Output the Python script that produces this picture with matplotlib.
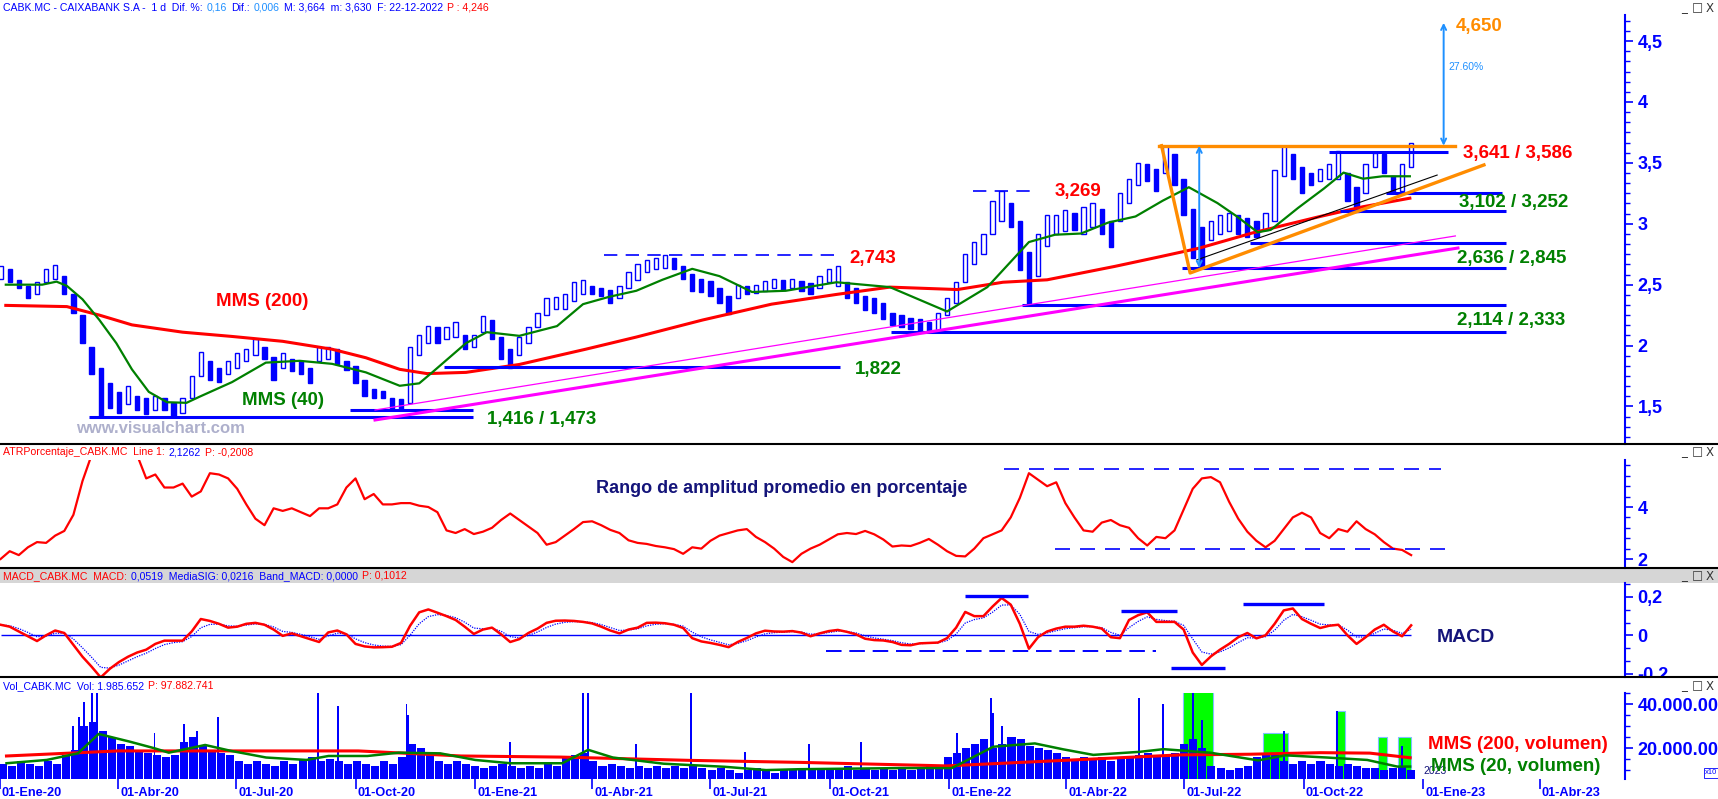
import numpy as np
import pandas as pd
import matplotlib
matplotlib.use('Agg')
import matplotlib.pyplot as plt
import matplotlib.dates as mdates
from matplotlib.ticker import MultipleLocator, FixedLocator, FuncFormatter
from matplotlib.patches import Rectangle
from matplotlib.lines import Line2D
from matplotlib.transforms import blended_transform_factory, ScaledTranslation

plt.rcParams['font.family'] = ['Liberation Sans', 'DejaVu Sans']
plt.rcParams['font.weight'] = 'bold'

BLUE = '#0000ff'
RED = '#ff0000'
GREEN = '#008000'
ORANGE = '#ff8c00'
MAGENTA = '#ff00ff'
SKY = '#1e90ff'
NAVY = '#14147a'

# ---------------------------------------------------------------- data
weeks = pd.date_range('2020-01-03', periods=156, freq='7D')

week_low = [
    2.55, 2.52, 2.47, 2.39, 2.42, 2.52, 2.55, 2.42, 2.27, 2.02,
    1.77, 1.42, 1.49, 1.45, 1.52, 1.47, 1.44, 1.47, 1.47, 1.42,
    1.45, 1.57, 1.75, 1.72, 1.70, 1.77, 1.82, 1.87, 1.92, 1.89,
    1.72, 1.82, 1.79, 1.77, 1.69, 1.87, 1.89, 1.85, 1.80, 1.69,
    1.59, 1.57, 1.57, 1.47, 1.48, 1.53, 1.92, 2.02, 2.02, 2.05,
    2.07, 1.97, 1.99, 2.11, 2.05, 1.89, 1.82, 1.92, 2.02, 2.15,
    2.25, 2.30, 2.30, 2.37, 2.42, 2.42, 2.41, 2.35, 2.39, 2.47,
    2.54, 2.60, 2.63, 2.64, 2.63, 2.55, 2.45, 2.44, 2.41, 2.35,
    2.26, 2.39, 2.42, 2.43, 2.45, 2.47, 2.46, 2.47, 2.45, 2.42,
    2.47, 2.52, 2.49, 2.39, 2.35, 2.29, 2.27, 2.22, 2.17, 2.15,
    2.14, 2.12, 2.11, 2.13, 2.25, 2.35, 2.52, 2.67, 2.75, 2.92,
    3.02, 2.97, 2.62, 2.33, 2.57, 2.82, 2.92, 2.94, 2.95, 2.92,
    2.97, 2.92, 2.81, 3.02, 3.17, 3.32, 3.35, 3.27, 3.42, 3.32,
    3.07, 2.72, 2.64, 2.87, 2.92, 2.94, 2.92, 2.89, 2.89, 2.95,
    3.02, 3.39, 3.37, 3.25, 3.32, 3.35, 3.37, 3.37, 3.19, 3.10,
    3.25, 3.47, 3.42, 3.25, 3.27, 3.47]
week_high = [
    2.65, 2.63, 2.54, 2.49, 2.52, 2.63, 2.66, 2.57, 2.42, 2.25,
    1.99, 1.82, 1.69, 1.62, 1.67, 1.59, 1.57, 1.59, 1.57, 1.53,
    1.57, 1.75, 1.95, 1.87, 1.82, 1.87, 1.94, 1.97, 2.05, 1.99,
    1.91, 1.94, 1.89, 1.87, 1.82, 1.99, 1.99, 1.97, 1.87, 1.83,
    1.72, 1.64, 1.63, 1.57, 1.56, 1.99, 2.09, 2.16, 2.15, 2.15,
    2.19, 2.09, 2.09, 2.24, 2.21, 2.07, 1.97, 2.07, 2.15, 2.27,
    2.39, 2.40, 2.42, 2.52, 2.54, 2.49, 2.47, 2.46, 2.49, 2.60,
    2.67, 2.70, 2.72, 2.74, 2.72, 2.65, 2.59, 2.55, 2.53, 2.47,
    2.41, 2.50, 2.49, 2.50, 2.53, 2.55, 2.54, 2.55, 2.53, 2.51,
    2.57, 2.63, 2.65, 2.52, 2.47, 2.41, 2.39, 2.35, 2.27, 2.25,
    2.23, 2.22, 2.19, 2.27, 2.39, 2.52, 2.75, 2.85, 2.92, 3.19,
    3.27, 3.17, 3.02, 2.77, 2.92, 3.07, 3.07, 3.11, 3.09, 3.14,
    3.17, 3.12, 3.02, 3.25, 3.37, 3.50, 3.49, 3.45, 3.64, 3.57,
    3.37, 3.12, 2.97, 3.02, 3.07, 3.09, 3.07, 3.05, 3.02, 3.09,
    3.44, 3.64, 3.57, 3.47, 3.42, 3.45, 3.49, 3.60, 3.42, 3.30,
    3.49, 3.58, 3.57, 3.39, 3.49, 3.66]

ma40_dates = ['2020-01-07', '2020-02-04', '2020-02-15', '2020-02-23', '2020-03-06', '2020-03-19',
              '2020-04-01', '2020-04-13', '2020-04-26', '2020-05-10', '2020-05-25', '2020-06-04',
              '2020-06-29', '2020-07-25', '2020-08-20', '2020-09-14', '2020-10-10', '2020-11-05',
              '2020-11-20', '2020-11-30', '2020-12-26', '2021-01-11', '2021-02-05', '2021-03-06',
              '2021-03-26', '2021-04-15', '2021-05-06', '2021-05-26', '2021-06-18', '2021-07-09',
              '2021-08-03', '2021-08-29', '2021-10-07', '2021-11-17', '2021-12-31', '2022-01-31',
              '2022-02-19', '2022-03-04', '2022-03-24', '2022-04-13', '2022-05-04', '2022-05-25',
              '2022-06-15', '2022-07-05', '2022-07-27', '2022-08-11', '2022-08-27', '2022-09-06',
              '2022-09-27', '2022-10-17', '2022-11-01', '2022-11-16', '2022-12-01', '2022-12-22']
ma40_vals = [2.50, 2.50, 2.525, 2.49, 2.38, 2.21,
             2.02, 1.805, 1.62, 1.535, 1.53, 1.58,
             1.70, 1.86, 1.875, 1.85, 1.78, 1.67,
             1.69, 1.78, 2.02, 2.11, 2.08, 2.16,
             2.34, 2.40, 2.45, 2.54, 2.63, 2.57,
             2.44, 2.45, 2.52, 2.48, 2.28, 2.48,
             2.70, 2.85, 2.91, 2.92, 3.01, 3.06,
             3.19, 3.30, 3.17, 3.06, 2.93, 2.95,
             3.13, 3.29, 3.42, 3.37, 3.39, 3.39]

ma200_dates = ['2020-01-07', '2020-02-23', '2020-03-19', '2020-04-13', '2020-05-22', '2020-06-29',
               '2020-08-07', '2020-09-14', '2020-10-10', '2020-11-05', '2020-11-26', '2020-12-26',
               '2021-02-05', '2021-03-28', '2021-05-06', '2021-06-26', '2021-08-18', '2021-10-07',
               '2021-11-17', '2022-01-08', '2022-02-12', '2022-03-18', '2022-05-09', '2022-06-13',
               '2022-07-13', '2022-08-23', '2022-10-14', '2022-11-16', '2022-12-22']
ma200_vals = [2.33, 2.32, 2.25, 2.17, 2.11, 2.075,
              2.035, 1.97, 1.90, 1.805, 1.77, 1.78,
              1.845, 1.97, 2.07, 2.21, 2.34, 2.42,
              2.48, 2.46, 2.52, 2.54, 2.65, 2.73,
              2.80, 2.925, 3.06, 3.14, 3.21]

# support lines (value, from, to)
sup_levels = [1.416, 1.473, 1.822, 2.114, 2.333, 2.636, 2.845, 3.102, 3.252, 3.586]
sup_start = ['2020-03-11', '2020-09-28', '2020-12-09', '2021-11-18', '2022-02-27',
             '2022-06-30', '2022-08-21', '2022-10-29', '2022-12-04', '2022-10-21']
sup_end = ['2020-12-31', '2020-12-31', '2021-10-10', '2023-03-06', '2023-03-06',
           '2023-03-06', '2023-03-06', '2023-03-06', '2023-03-03', '2023-01-20']
res_levels = [2.743, 3.269]
res_start = ['2021-04-11', '2022-01-20']
res_end = ['2021-10-07', '2022-03-10']
top_level = 3.641
target_level = 4.650

atr_weekly = [
    2.0, 2.3, 2.15, 2.45, 2.65, 2.62, 2.9, 3.08, 3.7, 5.0,
    6.0, 6.5, 6.8, 6.6, 6.3, 6.0, 5.1, 5.25, 4.75, 4.75,
    4.9, 4.4, 4.6, 5.3, 5.25, 5.1, 4.7, 4.1, 3.55, 3.3,
    3.95, 3.85, 3.95, 3.8, 3.65, 3.95, 3.95, 4.1, 4.75, 5.1,
    4.3, 4.5, 4.1, 4.1, 4.15, 4.15, 4.05, 4.0, 3.8, 3.1,
    3.0, 3.15, 2.96, 3.05, 3.2, 3.5, 3.75, 3.5, 3.25, 3.0,
    2.55, 2.65, 2.9, 3.15, 3.42, 3.45, 3.3, 3.12, 3.0, 2.72,
    2.62, 2.58, 2.5, 2.45, 2.38, 2.2, 2.45, 2.4, 2.7, 2.9,
    3.0, 3.1, 3.15, 2.85, 2.65, 2.4, 2.08, 1.88, 2.2, 2.4,
    2.55, 2.75, 2.95, 3.0, 2.96, 3.08, 2.95, 2.75, 2.48, 2.52,
    2.5, 2.62, 2.77, 2.55, 2.3, 2.12, 2.1, 2.4, 2.8, 2.95,
    3.1, 3.6, 4.35, 5.3, 5.05, 4.8, 4.95, 4.15, 3.6, 3.1,
    3.05, 3.4, 3.5, 3.3, 3.2, 2.8, 2.52, 2.85, 2.8, 3.1,
    3.9, 4.7, 5.1, 5.15, 4.95, 4.2, 3.55, 3.05, 2.7, 2.45,
    2.7, 3.15, 3.6, 3.78, 3.6, 3.0, 2.8, 3.15, 3.05, 3.45,
    3.15, 2.95, 2.65, 2.4, 2.35, 2.15]
atr_dash_levels = [5.46, 2.37]
atr_dash_start = ['2022-02-13', '2022-03-24']
atr_dash_end = ['2023-01-15', '2023-01-23']

macd_weekly = [
    0.055, 0.045, 0.02, -0.005, -0.03, 0.0, 0.025, 0.012, -0.05, -0.112,
    -0.164, -0.22, -0.175, -0.14, -0.112, -0.09, -0.075, -0.045, -0.028, -0.028,
    -0.028, 0.02, 0.085, 0.075, 0.06, 0.04, 0.045, 0.06, 0.065, 0.055,
    0.03, -0.003, 0.01, -0.005, -0.02, -0.035, 0.015, 0.025, 0.005, -0.045,
    -0.058, -0.063, -0.062, -0.06, -0.04, 0.05, 0.12, 0.135, 0.118, 0.1,
    0.08, 0.045, 0.007, 0.03, 0.04, 0.005, -0.035, -0.02, 0.012, 0.035,
    0.065, 0.076, 0.077, 0.075, 0.07, 0.062, 0.045, 0.025, 0.01, 0.03,
    0.04, 0.065, 0.066, 0.063, 0.055, 0.038, -0.015, -0.032, -0.04, -0.05,
    -0.062, -0.035, -0.014, 0.01, 0.024, 0.02, 0.019, 0.022, 0.014, -0.005,
    0.01, 0.022, 0.028, 0.018, 0.005, -0.018, -0.025, -0.027, -0.035, -0.05,
    -0.052, -0.042, -0.04, -0.038, -0.015, 0.04, 0.122, 0.1, 0.1, 0.15,
    0.195, 0.16, 0.06, -0.07, -0.01, 0.02, 0.035, 0.045, 0.045, 0.05,
    0.045, 0.035, -0.01, -0.015, 0.08, 0.105, 0.12, 0.07, 0.07, 0.07,
    0.03, -0.09, -0.155, -0.11, -0.075, -0.045, -0.01, 0.012, -0.016, 0.0,
    0.06, 0.13, 0.14, 0.085, 0.06, 0.038, 0.05, 0.055, 0.0, -0.045,
    -0.01, 0.03, 0.055, 0.02, -0.005, 0.052]
macd_marks = [0.207, 0.128, 0.165, -0.169]
macd_mark_start = ['2022-01-14', '2022-05-14', '2022-08-16', '2022-06-21']
macd_mark_end = ['2022-03-03', '2022-06-26', '2022-10-17', '2022-08-02']
macd_dash = -0.08
macd_dash_span = ['2021-09-29', '2022-06-10']

vol_weekly = [
    13, 12, 14, 13, 12, 14, 13, 17, 19, 30,
    32, 28, 25, 22, 21, 19, 18, 17, 16, 17,
    23, 25, 21, 19, 18, 17, 14, 13, 14, 13,
    12, 14, 13, 15, 16, 14, 15, 14, 13, 14,
    13, 12, 14, 13, 16, 22, 20, 17, 14, 13,
    14, 13, 12, 11, 12, 13, 12, 11, 12, 11,
    13, 12, 16, 17, 18, 14, 12, 13, 12, 11,
    12, 11, 12, 11, 12, 11, 12, 11, 10, 11,
    10, 9, 10, 11, 10, 9, 10, 10, 11, 10,
    11, 10, 11, 12, 10, 11, 10, 11, 10, 11,
    10, 11, 12, 11, 16, 18, 20, 22, 24, 20,
    22, 25, 24, 21, 20, 19, 18, 16, 15, 16,
    15, 16, 14, 15, 16, 17, 18, 16, 17, 18,
    22, 24, 20, 12, 11, 10, 11, 12, 16, 18,
    17, 14, 13, 14, 13, 14, 13, 12, 13, 12,
    11, 11, 10, 11, 12, 10]
spike_dates = ['2020-02-26', '2020-03-02', '2020-03-06', '2020-03-12', '2020-03-16', '2020-04-29',
               '2020-05-22', '2020-06-01', '2020-06-17', '2020-09-02', '2020-09-17', '2020-11-09',
               '2020-11-10', '2021-01-28', '2021-03-25', '2021-03-29', '2021-05-05', '2021-06-16',
               '2021-07-28', '2021-09-15', '2021-10-25', '2022-01-07', '2022-02-02', '2022-02-04',
               '2022-02-11', '2022-05-27', '2022-06-15', '2022-07-08', '2022-07-15', '2022-09-16',
               '2022-10-27', '2022-12-16']
spike_vals = [30, 34, 41, 50, 50, 27,
              31, 28, 34, 50, 39, 40,
              35, 23, 50, 50, 22, 50,
              18.5, 22, 23, 27, 43, 36,
              30, 43, 40, 50, 33, 28,
              37, 21]
vma20_dates = ['2020-01-06', '2020-02-06', '2020-03-01', '2020-03-17', '2020-04-10', '2020-04-29',
               '2020-05-10', '2020-06-07', '2020-06-27', '2020-07-24', '2020-08-24', '2020-09-10',
               '2020-10-10', '2020-11-03', '2020-12-05', '2021-01-01', '2021-01-28', '2021-03-09',
               '2021-03-29', '2021-04-17', '2021-05-26', '2021-07-12', '2021-08-13', '2021-09-08',
               '2021-11-24', '2022-01-03', '2022-02-04', '2022-03-08', '2022-03-30', '2022-04-22',
               '2022-05-28', '2022-06-15', '2022-07-21', '2022-08-27', '2022-09-17', '2022-10-19',
               '2022-11-19', '2022-12-12', '2022-12-22']
vma20_vals = [13.2, 14.7, 17.7, 26.5, 23, 20,
              18, 21.5, 18.8, 15.8, 14.7, 16.5,
              16.5, 18, 17.7, 14.7, 13.2, 13.2,
              19.3, 15.8, 13, 11.6, 10.1, 10.5,
              11, 11, 20.7, 22.2, 19.5, 17,
              18.4, 19.6, 18, 14.5, 16.8, 15.8,
              14.7, 11.7, 11.7]
vma200_dates = ['2020-01-06', '2020-04-01', '2020-10-03', '2020-12-21', '2021-03-08', '2021-06-16',
                '2021-09-08', '2021-12-30', '2022-06-28', '2022-08-21', '2022-10-14', '2022-11-21',
                '2022-12-22']
vma200_vals = [16.5, 18.8, 18.8, 16.5, 16, 14.5, 13.6, 12, 17, 17.3, 18, 17.8, 15.7]
green_start = ['2022-06-30', '2022-08-31', '2022-10-26', '2022-11-27', '2022-12-13']
green_end = ['2022-07-23', '2022-09-19', '2022-11-02', '2022-12-04', '2022-12-23']
green_top = [50, 27, 37, 25, 25]

quarters = pd.date_range('2020-01-01', '2023-04-01', freq='QS')
quarter_labels = ['01-Ene-20', '01-Abr-20', '01-Jul-20', '01-Oct-20', '01-Ene-21', '01-Abr-21',
                  '01-Jul-21', '01-Oct-21', '01-Ene-22', '01-Abr-22', '01-Jul-22', '01-Oct-22',
                  '01-Ene-23', '01-Abr-23']

D = pd.to_datetime

# ---------------------------------------------------------------- layout
W, H = 1718, 799
fig = plt.figure(figsize=(W / 100, H / 100), dpi=100)
fig.patch.set_facecolor('white')

def fy(px):
    return 1 - px / H

def fx(px):
    return px / W

ax_main = fig.add_axes([0, fy(444), fx(1625), fy(15) - fy(444)])
ax_atr = fig.add_axes([0, fy(568), fx(1625), fy(460) - fy(568)])
ax_macd = fig.add_axes([0, fy(677), fx(1625), fy(583) - fy(677)])
ax_vol = fig.add_axes([0, fy(779), fx(1625), fy(693) - fy(779)])

t0 = mdates.date2num(pd.Timestamp('2020-01-01'))
xlo, xhi = t0 + 1.54, t0 + 1251.5

def style(ax):
    for s in ['top', 'left', 'bottom']:
        ax.spines[s].set_visible(False)
    ax.spines['right'].set_color(BLUE)
    ax.spines['right'].set_linewidth(1.5)
    ax.yaxis.tick_right()
    ax.tick_params(axis='y', which='both', colors=BLUE, direction='out', labelsize=13, pad=3)
    ax.tick_params(axis='y', which='major', length=6, width=1.2)
    ax.tick_params(axis='y', which='minor', length=3.5, width=1)
    ax.tick_params(axis='x', which='both', bottom=False, labelbottom=False)
    ax.set_xlim(xlo, xhi)
    ax.patch.set_alpha(0)

comma = FuncFormatter(lambda v, p: ('%g' % round(v, 3)).replace('.', ','))

# ---------------------------------------------------------------- price panel
ax = ax_main
style(ax)
ax.set_ylim(1.192, 4.714)
ax.yaxis.set_major_locator(MultipleLocator(0.5))
ax.yaxis.set_minor_locator(MultipleLocator(0.5 / 6))
ax.yaxis.set_major_formatter(comma)

up = [True] + [week_high[i] >= week_high[i - 1] for i in range(1, len(week_high))]
ax.vlines(weeks, week_low, week_high, color=BLUE, lw=1.0, zorder=3)
ax.bar(weeks, np.array(week_high) - np.array(week_low), bottom=week_low, width=3.3,
       color=['white' if u else BLUE for u in up], edgecolor=BLUE, linewidth=1.0, zorder=3)

ax.plot(D(ma200_dates), ma200_vals, color=RED, lw=2.2, zorder=4)
ax.plot(D(ma40_dates), ma40_vals, color=GREEN, lw=1.6, zorder=4)

ax.hlines(sup_levels, D(sup_start), D(sup_end), color=BLUE, lw=2.2, zorder=5)
ax.hlines(res_levels, D(res_start), D(res_end), color=BLUE, lw=1.2, linestyles=(0, (8, 5)), zorder=5)

ax.plot(D(['2020-10-17', '2023-01-26']), [1.471, 2.900], color=MAGENTA, lw=0.9, zorder=5)
ax.plot(D(['2020-10-17', '2023-01-28']), [1.389, 2.801], color=MAGENTA, lw=2.2, zorder=5)
ax.plot(D(['2022-07-11', '2023-01-12']), [2.703, 3.40], color='black', lw=0.8, zorder=5)
ax.plot(D(['2022-06-12', '2023-01-26']), [top_level, top_level], color=ORANGE, lw=2.4, zorder=6)
ax.plot(D(['2022-06-14', '2022-07-06', '2023-02-17']), [top_level, 2.596, 3.483],
        color=ORANGE, lw=2.4, zorder=6)

for d, lo, hi in [('2022-07-13', 2.636, top_level), ('2023-01-17', top_level, target_level)]:
    ax.annotate('', xy=(D(d), hi), xytext=(D(d), lo),
                arrowprops=dict(arrowstyle='<->', color=SKY, lw=1.4, mutation_scale=9,
                                shrinkA=0, shrinkB=0), zorder=7)

lab = dict(fontsize=13.5, fontweight='bold', va='center', ha='left', zorder=8)
ax.text(D('2020-06-17'), 2.358, 'MMS (200)', color=RED, **lab)
ax.text(D('2020-07-07'), 1.553, 'MMS (40)', color=GREEN, **lab)
ax.text(D('2021-01-11'), 1.397, '1,416 / 1,473', color=GREEN, **lab)
ax.text(D('2021-10-21'), 1.80, '1,822', color=GREEN, **lab)
ax.text(D('2021-10-17'), 2.719, '2,743', color=RED, **lab)
ax.text(D('2022-03-24'), 3.261, '3,269', color=RED, **lab)
ax.text(D('2023-01-26'), 4.616, '4,650', color=ORANGE, **lab)
ax.text(D('2023-02-01'), 3.581, '3,641 / 3,586', color=RED, **lab)
ax.text(D('2023-01-29'), 3.171, '3,102 / 3,252', color=GREEN, **lab)
ax.text(D('2023-01-27'), 2.719, '2,636 / 2,845', color=GREEN, **lab)
ax.text(D('2023-01-27'), 2.210, '2,114 / 2,333', color=GREEN, **lab)
ax.text(D('2023-01-21'), 4.29, '27.60%', color=SKY, fontsize=7.5, fontweight='normal',
        va='center', ha='left')
ax.text(D('2020-03-01'), 1.323, 'www.visualchart.com', color='#aeb0cc', fontsize=12,
        fontweight='bold', va='center', ha='left')

# ---------------------------------------------------------------- ATR panel
ax = ax_atr
style(ax)
ax.set_ylim(1.654, 5.808)
ax.yaxis.set_major_locator(FixedLocator([2, 4]))
ax.yaxis.set_minor_locator(MultipleLocator(0.4))
ax.yaxis.set_major_formatter(comma)
ax.plot(weeks, atr_weekly, color=RED, lw=1.6)
ax.hlines(atr_dash_levels, D(atr_dash_start), D(atr_dash_end), color=BLUE, lw=1.2,
          linestyles=(0, (9, 6)))
ax.text(D('2021-04-05'), 4.73, 'Rango de amplitud promedio en porcentaje', color=NAVY,
        fontsize=13, fontweight='bold', va='center', ha='left')

# ---------------------------------------------------------------- MACD panel
ax = ax_macd
style(ax)
ax.set_ylim(-0.2178, 0.2731)
ax.yaxis.set_major_locator(FixedLocator([-0.2, 0, 0.2]))
ax.yaxis.set_minor_locator(MultipleLocator(0.2 / 3))
ax.yaxis.set_major_formatter(comma)
signal = pd.Series(macd_weekly).ewm(span=3, adjust=False).mean()
ax.hlines(0, weeks[0], weeks[-1], color=BLUE, lw=1.0)
ax.plot(weeks, signal, color=BLUE, lw=0.9, ls=(0, (1, 1)))
ax.plot(weeks, macd_weekly, color=RED, lw=1.8)
ax.hlines(macd_marks, D(macd_mark_start), D(macd_mark_end), color=BLUE, lw=2.4)
ax.hlines(macd_dash, D(macd_dash_span[0]), D(macd_dash_span[1]), color=BLUE, lw=1.4,
          linestyles=(0, (8, 4)))
ax.text(D('2023-01-12'), -0.009, 'MACD', color=NAVY, fontsize=14, fontweight='bold',
        va='center', ha='left')

# ---------------------------------------------------------------- volume panel
ax = ax_vol
style(ax)
M = 1e6
ax.set_ylim(6.05 * M, 45.1 * M)
ax.yaxis.set_major_locator(FixedLocator([20 * M, 40 * M]))
ax.yaxis.set_minor_locator(MultipleLocator(5 * M))
ax.yaxis.set_major_formatter(FuncFormatter(lambda v, p: f'{int(round(v)):,}'.replace(',', '.')))
gs = D(green_start)
ax.bar(gs, np.array(green_top) * M, width=(D(green_end) - gs).days, align='edge',
       color='#00ff00', edgecolor='#7fbfff', linewidth=0.8, zorder=1)
ax.bar(weeks, np.array(vol_weekly) * M, width=6.2, color=BLUE, zorder=2)
ax.bar(D(spike_dates), np.array(spike_vals) * M, width=1.4, color=BLUE, zorder=2)
ax.plot(D(vma200_dates), np.array(vma200_vals) * M, color=RED, lw=2.2, zorder=3)
ax.plot(D(vma20_dates), np.array(vma20_vals) * M, color=GREEN, lw=1.8, zorder=3)
ax.text(D('2023-01-01'), 9.7 * M, '2023', color=NAVY, fontsize=7.5, fontweight='normal',
        va='center', ha='left')
ax.text(D('2023-01-05'), 21.5 * M, 'MMS (200, volumen)', color=RED, fontsize=13.5,
        fontweight='bold', va='center', ha='left')
ax.text(D('2023-01-07'), 11.5 * M, 'MMS (20, volumen)', color=GREEN, fontsize=13.5,
        fontweight='bold', va='center', ha='left')

ax.set_xticks(mdates.date2num(quarters))
ax.tick_params(axis='x', which='major', bottom=True, length=7, width=1.2, color=BLUE,
               labelbottom=False, direction='out')
tr = blended_transform_factory(ax.transData, ax.transAxes) + ScaledTranslation(0.02, -0.137, fig.dpi_scale_trans)
for q, l in zip(quarters, quarter_labels):
    ax.text(q, 0, l, transform=tr, color=BLUE, fontsize=9.2, fontweight='bold',
            ha='left', va='center', clip_on=False)

# ---------------------------------------------------------------- frame, headers
fig.add_artist(Rectangle((0, fy(583)), 1, fy(568) - fy(583), transform=fig.transFigure,
                         facecolor='#d6d6d6', edgecolor='none', zorder=0))
fig.add_artist(Rectangle((fx(1627), fy(692)), 1, fy(678) - fy(692), transform=fig.transFigure,
                         facecolor='white', edgecolor='none', zorder=5))
for ypx in [444, 568, 677]:
    fig.add_artist(Line2D([0, 1], [fy(ypx), fy(ypx)], transform=fig.transFigure,
                          color='black', lw=1.5, zorder=6))

renderer = fig.canvas.get_renderer()

def header(y_px, parts, size=7.6):
    x = 3 / W
    for txt, col in parts:
        t = fig.text(x, fy(y_px), txt, color=col, fontsize=size, fontweight='normal',
                     va='center', ha='left', zorder=7)
        x += (t.get_window_extent(renderer).width + 4) / W

header(8, [('CABK.MC - CAIXABANK S.A -  1 d  Dif. %:', BLUE), ('0,16', SKY), ('Dif.:', BLUE),
           ('0,006', SKY), ('M: 3,664  m: 3,630  F: 22-12-2022', BLUE), ('P : 4,246', RED)])
header(452, [('ATRPorcentaje_CABK.MC  Line 1:', RED), ('2,1262', BLUE), ('P: -0,2008', RED)])
header(576, [('MACD_CABK.MC  MACD:', RED), ('0,0519  MediaSIG: 0,0216  Band_MACD: 0,0000', BLUE),
             ('P: 0,1012', RED)])
header(686, [('Vol_CABK.MC  Vol: 1.985.652', BLUE), ('P: 97.882.741', RED)])

for ypx in [8, 452, 576, 686]:
    for xpx, g in [(1684, '_'), (1697, '\u25a1'), (1710, 'X')]:
        fig.text(fx(xpx), fy(ypx), g, color='#333333', fontsize=8.5, fontweight='normal',
                 ha='center', va='center', family=['DejaVu Sans'], zorder=7)

fig.text(fx(1711), fy(773), 'x10', color=BLUE, fontsize=5.5, fontweight='normal',
         ha='center', va='center', zorder=7,
         bbox=dict(boxstyle='square,pad=0.15', facecolor='white', edgecolor=BLUE, lw=0.6))

fig.savefig('out.png', dpi=100, facecolor='white')
